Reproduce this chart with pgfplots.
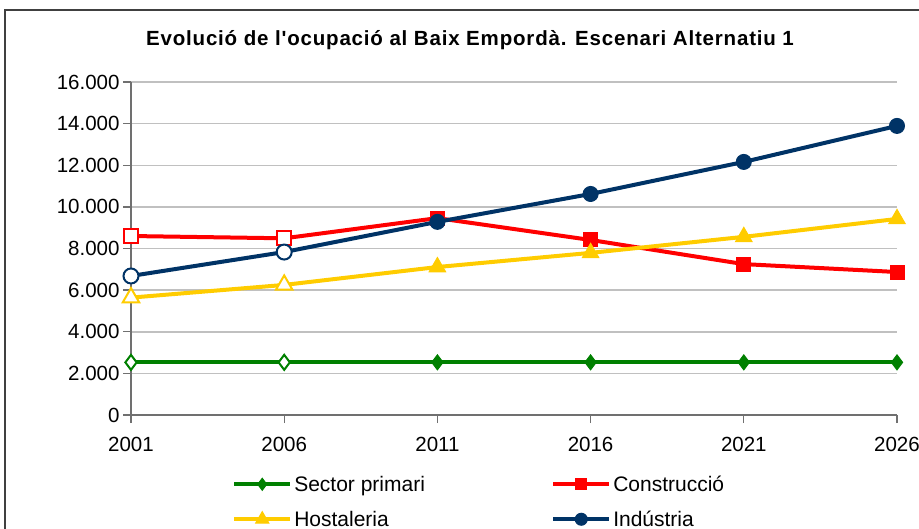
\documentclass[border=0pt]{standalone}
\usepackage{fontspec}
\setmainfont{Liberation Sans}
\newfontfamily\titlefont{Liberation Sans}[LetterSpace=4]
\usepackage{pgfplots}
\pgfplotsset{compat=1.18}
\definecolor{cgreen}{HTML}{008000}
\definecolor{cred}{HTML}{FF0000}
\definecolor{cyellow}{HTML}{FFCC00}
\definecolor{cblue}{HTML}{003366}
\definecolor{gridgray}{HTML}{C0C0C0}
\definecolor{axgray}{HTML}{707070}
\definecolor{framegray}{HTML}{404040}
\begin{document}
\begin{tikzpicture}
\useasboundingbox (-131pt,-113pt) rectangle (788pt,415pt);
\draw[framegray, line width=2pt] (-126pt,405pt) rectangle (820pt,-140pt);
\begin{axis}[
  scale only axis, width=766pt, height=333pt,
  xmin=2001, xmax=2026, ymin=0, ymax=16000,
  scaled y ticks=false, scaled x ticks=false,
  xtick={2001,2006,2011,2016,2021,2026},
  xticklabels={2001,2006,2011,2016,2021,2026},
  ytick={0,2000,4000,6000,8000,10000,12000,14000,16000},
  yticklabels={0,2.000,4.000,6.000,8.000,10.000,12.000,14.000,16.000},
  ymajorgrids, grid style={color=gridgray, line width=1.5pt},
  axis x line*=bottom, axis y line*=left,
  axis line style={color=axgray, line width=1.3pt},
  tick align=outside, major tick length=8pt,
  tick style={color=axgray, line width=1.3pt},
  ticklabel style={font=\fontsize{20.5}{23}\selectfont},
  xticklabel style={yshift=-11pt},
  clip=false,
  legend columns=2, legend cell align=left,
  legend style={at={(0.128,-0.17)}, anchor=north west, draw=none, fill=none,
    font=\fontsize{21}{23}\selectfont, row sep=14pt},
  legend image code/.code={\draw[mark repeat=2,mark phase=2,#1,every mark/.append style={scale=0.8}] plot coordinates {(0pt,0pt) (28pt,0pt) (56pt,0pt)};},
]
\addplot[cgreen, line width=4pt, mark=diamond*, mark size=7.5pt, mark options={line width=1pt, fill=cgreen}]
  coordinates {(2001,2530) (2006,2530) (2011,2530) (2016,2530) (2021,2530) (2026,2530)};
\addlegendentry{\makebox[255pt][l]{Sector primari}}
\addplot[forget plot, only marks, cgreen, mark=diamond*, mark size=7.5pt, mark options={line width=2pt, fill=white}]
  coordinates {(2001,2530) (2006,2530)};
\addplot[cred, line width=4pt, mark=square*, mark size=7pt, mark options={line width=1pt, fill=cred}]
  coordinates {(2001,8600) (2006,8490) (2011,9460) (2016,8410) (2021,7250) (2026,6870)};
\addlegendentry{Construcció}
\addplot[forget plot, only marks, cred, mark=square*, mark size=7pt, mark options={line width=2pt, fill=white}]
  coordinates {(2001,8600) (2006,8490)};
\addplot[cyellow, line width=4pt, mark=triangle*, mark size=9.5pt, mark options={line width=1pt, fill=cyellow}]
  coordinates {(2001,5640) (2006,6250) (2011,7110) (2016,7790) (2021,8560) (2026,9420)};
\addlegendentry{\makebox[255pt][l]{Hostaleria}}
\addplot[forget plot, only marks, cyellow, mark=triangle*, mark size=9.5pt, mark options={line width=2pt, fill=white}]
  coordinates {(2001,5640) (2006,6250)};
\addplot[cblue, line width=4pt, mark=*, mark size=7.5pt, mark options={line width=1pt, fill=cblue}]
  coordinates {(2001,6680) (2006,7830) (2011,9280) (2016,10620) (2021,12160) (2026,13890)};
\addlegendentry{Indústria}
\addplot[forget plot, only marks, cblue, mark=*, mark size=7.5pt, mark options={line width=2pt, fill=white}]
  coordinates {(2001,6680) (2006,7830)};
\end{axis}
\node[font=\titlefont\bfseries\fontsize{20.5}{23}\selectfont] at (339pt,375pt) {Evolució de l'ocupació al Baix Empordà. Escenari Alternatiu 1};
\end{tikzpicture}
\end{document}
